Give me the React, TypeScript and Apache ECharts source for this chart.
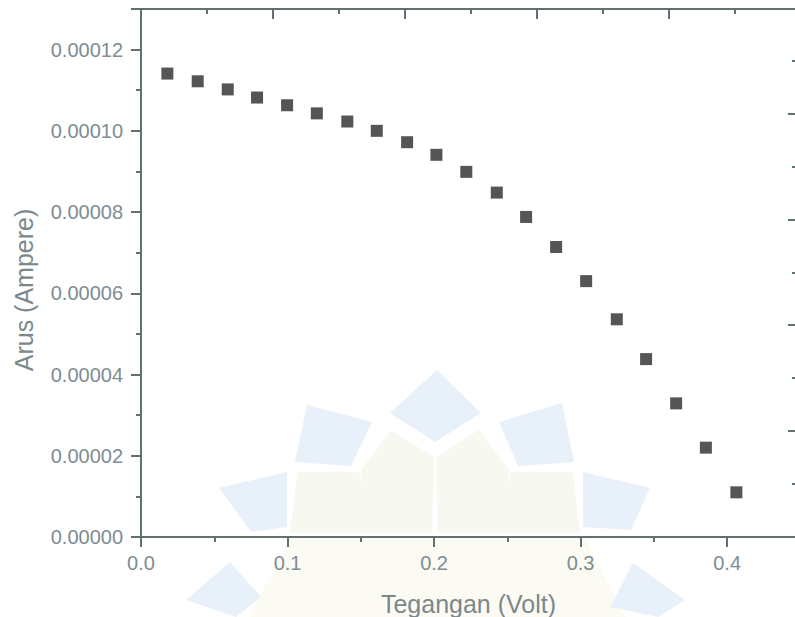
import React, { useEffect, useRef } from "react";
import * as echarts from "echarts";

// Tegangan (Volt)
const voltage = [
  0.018, 0.0387, 0.0592, 0.0792, 0.0997, 0.12, 0.1408, 0.1609, 0.1816, 0.2016,
  0.222, 0.2428, 0.2628, 0.2833, 0.3038, 0.3247, 0.3447, 0.3652, 0.3855, 0.4063,
];
// Arus (Ampere)
const current = [
  0.0001141, 0.0001122, 0.0001102, 0.0001082, 0.0001063, 0.0001043, 0.0001023,
  0.0001, 0.0000972, 0.0000941, 0.0000899, 0.0000848, 0.0000788, 0.0000714,
  0.000063, 0.0000536, 0.0000438, 0.0000329, 0.000022, 0.000011,
];
const xTickLabels = ["0.0", "0.1", "0.2", "0.3", "0.4"];
const yTickLabels = ["0.00000", "0.00002", "0.00004", "0.00006", "0.00008", "0.00010", "0.00012"];
const xTitle = "Tegangan (Volt)";
const yTitle = "Arus (Ampere)";

const AXIS_COLOR = "#617070";
const LABEL_COLOR = "#7d8d93";
const TITLE_COLOR = "#7b888b";
const FONT = "'Liberation Sans', Arial, sans-serif";

const BLUE = "#e8f0f9";
const GREEN = "#f7f9f0";

const wmPolys: number[][][] = [];
const wmColors: string[] = [];
function poly(c: string, pts: number[][]) {
  wmPolys.push(pts);
  wmColors.push(c);
}
poly("#fbfbf4", [[290, 537], [585, 537], [625, 617], [250, 617]]);
poly(GREEN, [[434, 457], [391, 430], [361, 470], [374, 533], [432, 533]]);
poly(GREEN, [[436, 457], [479, 430], [509, 470], [496, 533], [438, 533]]);
poly(GREEN, [[297, 472], [359, 472], [382, 533], [290, 533]]);
poly(GREEN, [[573, 472], [511, 472], [488, 533], [580, 533]]);
poly(BLUE, [[437, 370], [481, 413], [435, 442], [390, 413]]);
poly(BLUE, [[307, 405], [372, 422], [351, 466], [295, 462]]);
poly(BLUE, [[499, 422], [562, 403], [574, 462], [518, 466]]);
poly(BLUE, [[219, 488], [287, 472], [287, 527], [251, 532]]);
poly(BLUE, [[583, 472], [650, 488], [631, 530], [583, 527]]);
poly(BLUE, [[186, 600], [230, 562], [261, 597], [236, 617]]);
poly(BLUE, [[633, 563], [685, 600], [658, 617], [610, 607]]);

function fmtX(v: number) {
  const i = Math.round(v * 10);
  return Math.abs(v * 10 - i) < 1e-6 && xTickLabels[i] !== undefined ? xTickLabels[i] : "";
}
function fmtY(v: number) {
  const i = Math.round(v / 0.00002);
  return Math.abs(v / 0.00002 - i) < 1e-6 && yTickLabels[i] !== undefined ? yTickLabels[i] : "";
}

export default function App() {
  const ref = useRef<HTMLDivElement>(null);
  useEffect(() => {
    if (!ref.current) return;
    const chart = echarts.init(ref.current, undefined, { renderer: "svg" });
    const axisLine = { show: true, onZero: false, lineStyle: { color: AXIS_COLOR, width: 2 } };
    const tickStyle = { color: AXIS_COLOR, width: 2 };
    chart.setOption({
      animation: false,
      backgroundColor: "#ffffff",
      grid: {
        left: 141,
        top: 9,
        width: 655,
        height: 528,
        containLabel: false,
        outerBoundsMode: "none",
      },
      graphic: [
        ...wmPolys.map((pts, i) => ({
          type: "polygon",
          silent: true,
          z: -10,
          shape: { points: pts },
          style: { fill: wmColors[i] },
        })),
        {
          type: "text",
          x: 24,
          y: 290,
          rotation: Math.PI / 2,
          style: {
            text: yTitle,
            fill: TITLE_COLOR,
            font: `25px ${FONT}`,
            textAlign: "center",
            textVerticalAlign: "middle",
          },
        },
      ],
      xAxis: [
        {
          type: "value",
          position: "bottom",
          min: 0,
          max: 0.447,
          interval: 0.1,
          name: xTitle,
          nameLocation: "middle",
          nameGap: 54,
          nameTextStyle: { color: TITLE_COLOR, fontSize: 25, fontFamily: FONT },
          axisLine,
          axisTick: { show: true, inside: false, length: 10, lineStyle: tickStyle },
          minorTick: { show: true, splitNumber: 2, length: 5, lineStyle: tickStyle },
          splitLine: { show: false },
          axisLabel: { color: LABEL_COLOR, fontSize: 20, fontFamily: FONT, margin: 16, formatter: fmtX },
        },
        {
          type: "value",
          position: "top",
          min: 0,
          max: 0.4962,
          interval: 0.1,
          axisLine,
          axisTick: { show: true, inside: true, length: 10, lineStyle: tickStyle },
          minorTick: { show: true, splitNumber: 2, length: 5, lineStyle: tickStyle },
          splitLine: { show: false },
          axisLabel: { show: false },
        },
      ],
      yAxis: [
        {
          type: "value",
          position: "left",
          min: 0,
          max: 0.00013,
          interval: 0.00002,
          axisLine,
          axisTick: { show: true, inside: false, length: 10, lineStyle: tickStyle },
          minorTick: { show: true, splitNumber: 2, length: 5, lineStyle: tickStyle },
          splitLine: { show: false },
          axisLabel: { color: LABEL_COLOR, fontSize: 20, fontFamily: FONT, margin: 18, formatter: fmtY },
        },
        {
          type: "value",
          position: "right",
          min: 0,
          max: 4.986,
          interval: 1,
          axisLine,
          axisTick: { show: true, inside: true, length: 8, lineStyle: tickStyle },
          minorTick: { show: true, splitNumber: 2, length: 4, lineStyle: tickStyle },
          splitLine: { show: false },
          axisLabel: { show: false },
        },
      ],
      series: [
        {
          type: "scatter",
          xAxisIndex: 0,
          yAxisIndex: 0,
          symbol: "rect",
          symbolSize: 12,
          z: 5,
          itemStyle: { color: "#555555", opacity: 1 },
          data: voltage.map((v, i) => [v, current[i]]),
        },
      ],
    });
    return () => chart.dispose();
  }, []);
  return (
    <div
      ref={ref}
      style={{ position: "fixed", left: 0, top: 0, width: 795, height: 617 }}
    />
  );
}
